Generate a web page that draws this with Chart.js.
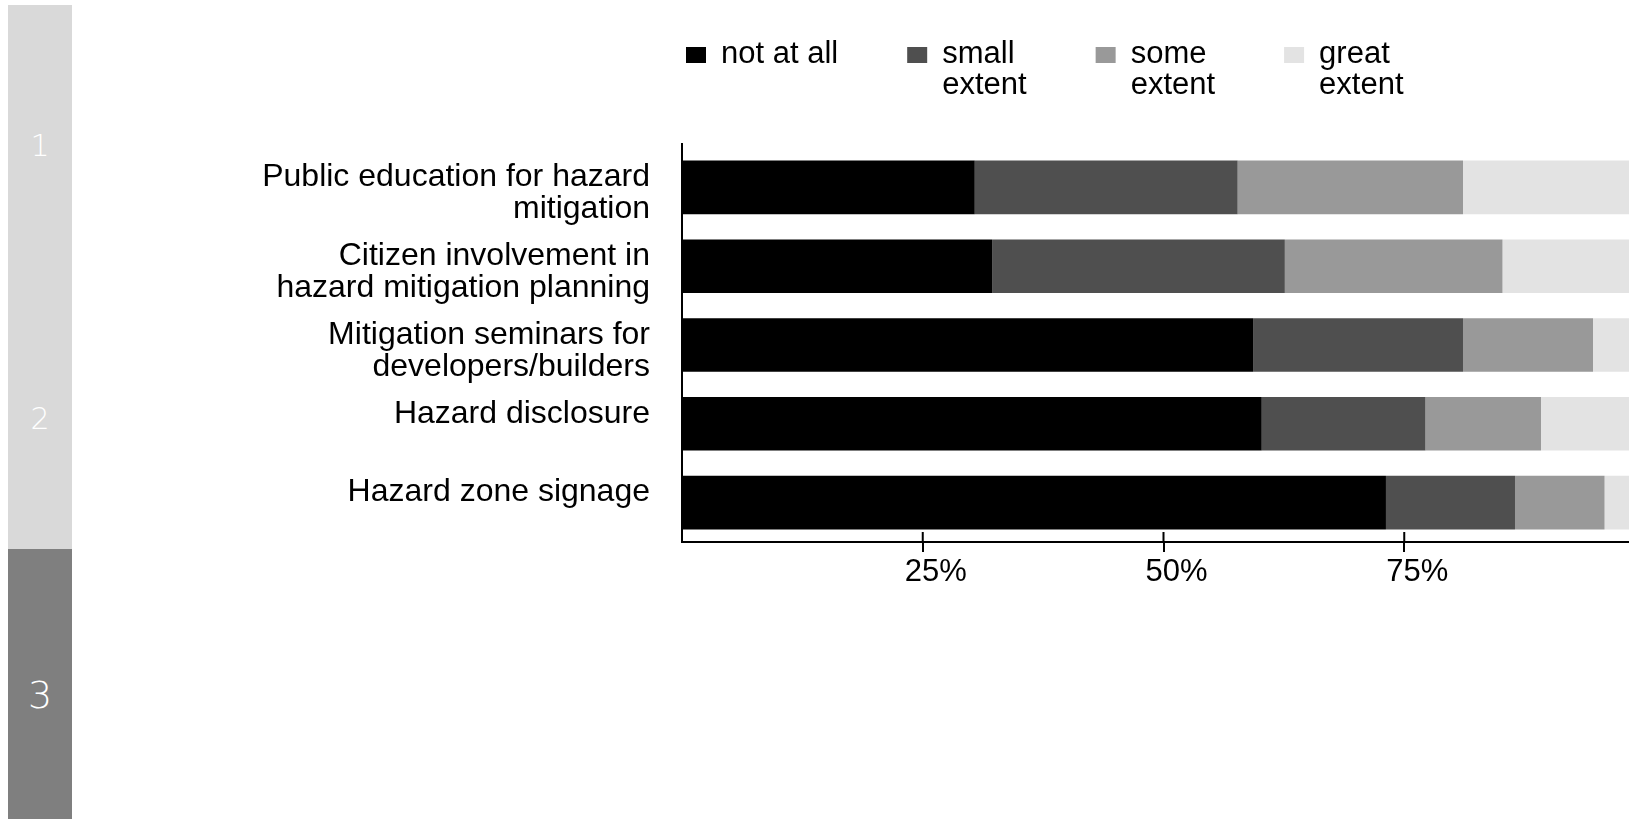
<!DOCTYPE html>
<html>
<head>
<meta charset="utf-8">
<script src="https://cdn.jsdelivr.net/npm/chart.js@4"></script>
<style>
  html, body { margin: 0; padding: 0; background: #fff; overflow: hidden; }
  #wrap { position: absolute; left: 0; top: 0; width: 1650px; height: 819px; }
  .side { position: absolute; left: 8px; width: 64px; color: #fff;
          font-family: 'DejaVu Sans', sans-serif; font-weight: 300; text-align: center; }
  .side span { position: absolute; left: 0; right: 0; }
</style>
</head>
<body>
<div id="wrap"><canvas id="myChart"></canvas></div>

<!-- section tabs on the left -->
<div class="side" style="top:5px;height:544px;background:#d9d9d9;font-size:30px;">
  <span style="top:123px;">1</span>
  <span style="top:396px;">2</span>
</div>
<div class="side" style="top:549px;height:270px;background:#7f7f7f;font-size:38px;">
  <span style="top:124px;">3</span>
</div>

<script>
// measures (a trailing '' keeps single-line labels on the upper line)
var categories = [
    ['Public education for hazard', 'mitigation'],
    ['Citizen involvement in', 'hazard mitigation planning'],
    ['Mitigation seminars for', 'developers/builders'],
    ['Hazard disclosure', ''],
    ['Hazard zone signage', '']
];

// share of respondents, percent
var notAtAll    = [30.4, 32.2, 59.3, 60.2, 73.1];
var smallExtent = [27.3, 30.4, 21.8, 17.0, 13.4];
var someExtent  = [23.4, 22.6, 13.5, 12.0, 9.3];
var greatExtent = [18.9, 14.8, 5.4, 10.8, 4.2];

var seriesNames = [['not at all'], ['small', 'extent'], ['some', 'extent'], ['great', 'extent']];
var seriesColors = ['#000000', '#4f4f4f', '#999999', '#e3e3e3'];
var tickValues = [25, 50, 75];

Chart.defaults.font.family = "'Liberation Sans', Arial, sans-serif";
Chart.defaults.color = '#000';

// legend drawn above the plot, boxes to the left of (possibly two-line) names
var extentLegend = {
    id: 'extentLegend',
    afterDraw: function(chart) {
        var ctx = chart.ctx;
        var area = chart.chartArea;
        var x = area.left + 4;
        var firstBaseline = area.top - 85;
        var lineGap = 31;
        ctx.save();
        ctx.font = "31px 'Liberation Sans', Arial, sans-serif";
        ctx.textBaseline = 'alphabetic';
        ctx.textAlign = 'left';
        chart.data.datasets.forEach(function(ds, i) {
            var lines = seriesNames[i];
            ctx.fillStyle = ds.backgroundColor;
            ctx.fillRect(x, firstBaseline - 16, 20, 16);
            ctx.fillStyle = '#000';
            var w = 0;
            lines.forEach(function(line, j) {
                ctx.fillText(line, x + 35, firstBaseline + j * lineGap);
                w = Math.max(w, ctx.measureText(line).width);
            });
            x += 35 + w + 69;
        });
        ctx.restore();
    }
};

// tick marks cross the x axis; y axis line runs a little above the plot
var axisMarks = {
    id: 'axisMarks',
    afterDraw: function(chart) {
        var ctx = chart.ctx;
        var area = chart.chartArea;
        var xs = chart.scales.x;
        ctx.save();
        ctx.strokeStyle = '#000';
        ctx.lineWidth = 2;
        ctx.beginPath();
        tickValues.forEach(function(v) {
            var px = xs.getPixelForValue(v);
            ctx.moveTo(px, area.bottom - 10);
            ctx.lineTo(px, area.bottom);
        });
        ctx.moveTo(area.left, area.top - 5);
        ctx.lineTo(area.left, area.top);
        ctx.stroke();
        ctx.restore();
    }
};

var ctx = document.getElementById('myChart').getContext('2d');
var chart = new Chart(ctx, {
    type: 'bar',
    data: {
        labels: categories,
        datasets: [
            { label: 'not at all',   data: notAtAll,    backgroundColor: seriesColors[0] },
            { label: 'small extent', data: smallExtent, backgroundColor: seriesColors[1] },
            { label: 'some extent',  data: someExtent,  backgroundColor: seriesColors[2] },
            { label: 'great extent', data: greatExtent, backgroundColor: seriesColors[3] }
        ]
    },
    options: {
        indexAxis: 'y',
        responsive: true,
        maintainAspectRatio: false,
        animation: false,
        categoryPercentage: 1,
        barPercentage: 0.68,
        layout: { padding: { top: 148, bottom: 217, left: 0, right: 5 } },
        plugins: {
            legend: { display: false },
            tooltip: { enabled: false }
        },
        scales: {
            x: {
                stacked: true,
                min: 0,
                max: 100,
                afterBuildTicks: function(scale) {
                    scale.ticks = tickValues.map(function(v) { return { value: v }; });
                },
                afterFit: function(scale) { scale.height = 60; },
                grid: { drawOnChartArea: false, drawTicks: true, tickLength: 10, color: '#000', lineWidth: 2 },
                border: { display: true, color: '#000', width: 2 },
                ticks: {
                    font: { size: 31 },
                    padding: 2,
                    labelOffset: 13,
                    maxRotation: 0,
                    callback: function(v) { return v + '%'; }
                }
            },
            y: {
                stacked: true,
                afterFit: function(scale) { scale.width = 682; },
                grid: { display: false, drawTicks: false },
                border: { display: true, color: '#000', width: 2 },
                ticks: {
                    font: { size: 32, lineHeight: '32px' },
                    padding: 32,
                    labelOffset: 6
                }
            }
        }
    },
    plugins: [extentLegend, axisMarks]
});
</script>
</body>
</html>
